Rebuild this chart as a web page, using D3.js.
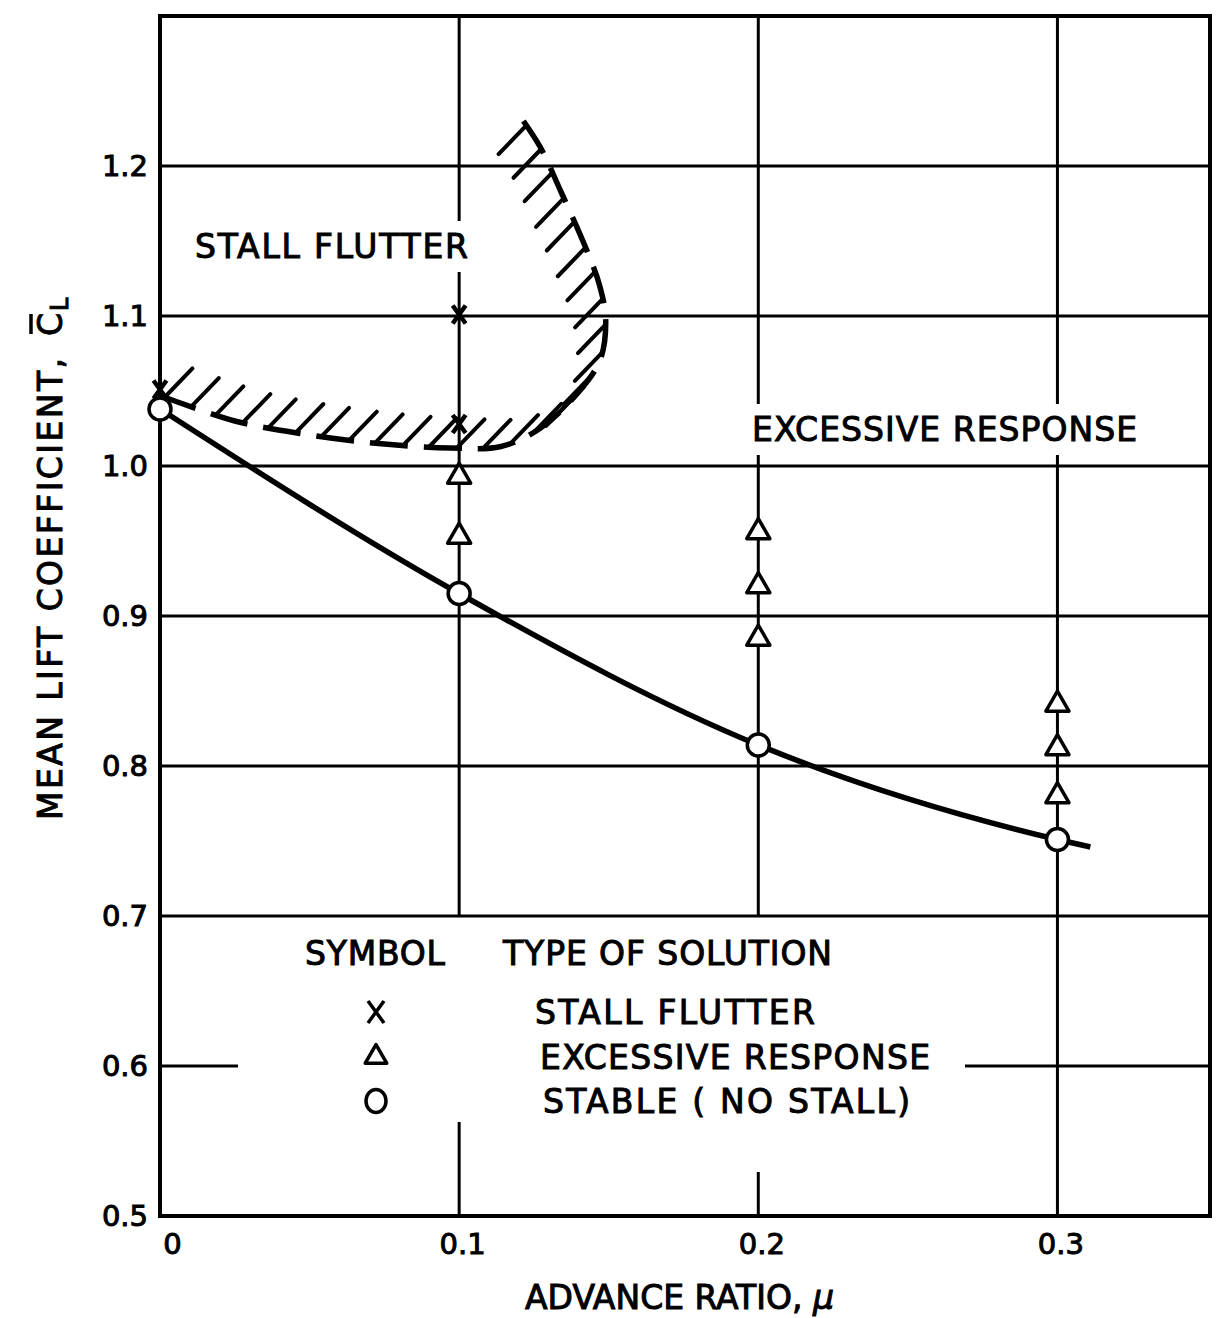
<!DOCTYPE html>
<html lang="en">
<head>
<meta charset="utf-8">
<title>Mean lift coefficient vs advance ratio</title>
<script src="https://d3js.org/d3.v7.min.js"></script>
<style>
  body { margin: 0; background: #fff; }
  svg text { font-family: "DejaVu Sans", sans-serif; fill: #000; }
  .lbl { font-size: 33px; stroke: #000; stroke-width: 1px; }
  .tick text { font-size: 29px; stroke: #000; stroke-width: 1px; font-family: "DejaVu Sans", sans-serif; }
</style>
</head>
<body>
<div id="chart"></div>
<script>
// axis ticks
var xTicks = [0, 0.1, 0.2, 0.3];
var yTicks = [0.5, 0.6, 0.7, 0.8, 0.9, 1.0, 1.1, 1.2];

// solid curve (stable / no stall boundary)
var curveMu = [0, 0.1, 0.2, 0.3, 0.311];
var curveCL = [1.038, 0.915, 0.814, 0.751, 0.746];

// O  stable (no stall)
var stableMu = [0, 0.1, 0.2, 0.3];
var stableCL = [1.038, 0.915, 0.814, 0.751];

// triangle  excessive response
var excessMu = [0.1, 0.1, 0.2, 0.2, 0.2, 0.3, 0.3, 0.3];
var excessCL = [0.993, 0.953, 0.956, 0.920, 0.885, 0.841, 0.812, 0.780];

// X  stall flutter
var flutterMu = [0, 0.1, 0.1];
var flutterCL = [1.051, 1.101, 1.028];

// dashed, hatched stall flutter boundary
var boundMu = [0, 0.025, 0.049, 0.073, 0.097, 0.114, 0.127, 0.138, 0.147, 0.149, 0.147, 0.142, 0.134, 0.127, 0.119];
var boundCL = [1.047, 1.030, 1.021, 1.015, 1.012, 1.013, 1.025, 1.045, 1.070, 1.097, 1.120, 1.147, 1.183, 1.213, 1.237];

var legendSymbols = ["x", "tri", "o"];
var legendLabels = ["STALL  FLUTTER", "EXCESSIVE  RESPONSE", "STABLE  ( NO STALL)"];

var W = 1225, H = 1318;
var svg = d3.select("#chart").append("svg")
  .attr("width", W).attr("height", H);

var x = d3.scaleLinear().domain([0, 0.351]).range([160, 1210]);
var y = d3.scaleLinear().domain([0.5, 1.3]).range([1216, 16]);

var gridW = 3, ink = "#000";

// horizontal grid lines (0.6 is broken by the legend)
var gGrid = svg.append("g").attr("stroke", ink).attr("stroke-width", gridW);
yTicks.filter(function(v){ return v > 0.5; }).forEach(function(v) {
  var segs = (v === 0.6) ? [[x(0), 238], [965, x(0.351)]] : [[x(0), x(0.351)]];
  segs.forEach(function(s) {
    gGrid.append("line").attr("x1", s[0]).attr("x2", s[1])
      .attr("y1", y(v)).attr("y2", y(v));
  });
});
// vertical grid lines (0.1 and 0.2 broken by the legend)
xTicks.filter(function(v){ return v > 0; }).forEach(function(v) {
  var segs;
  if (v === 0.1) segs = [[y(1.3), y(0.7)], [1122, y(0.5)]];
  else if (v === 0.2) segs = [[y(1.3), y(0.7)], [1172, y(0.5)]];
  else segs = [[y(1.3), y(0.5)]];
  segs.forEach(function(s) {
    gGrid.append("line").attr("x1", x(v)).attr("x2", x(v))
      .attr("y1", s[0]).attr("y2", s[1]);
  });
});

// frame
svg.append("rect")
  .attr("x", x(0)).attr("y", y(1.3))
  .attr("width", x(0.351) - x(0)).attr("height", y(0.5) - y(1.3))
  .attr("fill", "none").attr("stroke", ink).attr("stroke-width", 4);

// axes (labels only)
var xAxis = svg.append("g").attr("transform", "translate(0," + y(0.5) + ")")
  .call(d3.axisBottom(x).tickValues(xTicks).tickSize(0).tickPadding(17)
    .tickFormat(function(d){ return d === 0 ? "0" : d3.format(".1f")(d); }));
xAxis.select(".domain").remove();
xAxis.selectAll(".tick text").attr("dx", function(d){ return d === 0 ? 12 : 3; });

var yAxis = svg.append("g").attr("transform", "translate(" + x(0) + ",0)")
  .call(d3.axisLeft(y).tickValues(yTicks).tickSize(0).tickPadding(12)
    .tickFormat(d3.format(".1f")));
yAxis.select(".domain").remove();

// text with white knock-out behind it
function label(txt, x0, base, len, knock) {
  var g = svg.append("g");
  var t = g.append("text").attr("class", "lbl")
    .attr("x", x0).attr("y", base).text(txt);
  if (len) t.attr("textLength", len).attr("lengthAdjust", "spacing");
  if (knock) {
    var b = t.node().getBBox();
    g.insert("rect", "text").attr("x", b.x - 4).attr("y", b.y - 6)
      .attr("width", b.width + 8).attr("height", b.height + 12)
      .attr("fill", "#fff");
  }
  return t;
}

label("STALL  FLUTTER", 195, 258, 273, true);
label("EXCESSIVE  RESPONSE", 752, 441, 385, true);

// stall flutter boundary
var bound = boundMu.map(function(m, i){ return [x(m), y(boundCL[i])]; });
var boundPath = svg.append("path")
  .attr("d", d3.line().curve(d3.curveCatmullRom)(bound))
  .attr("fill", "none").attr("stroke", ink).attr("stroke-width", 5.5)
  .attr("stroke-dasharray", "38 16");

// hatching at both ends of each dash, pointing into the flutter region
var node = boundPath.node(), total = node.getTotalLength();
var ang = 46 * Math.PI / 180, d0 = [Math.cos(ang), -Math.sin(ang)], hl = 40;
var hatch = svg.append("g").attr("stroke", ink).attr("stroke-width", 4)
  .attr("stroke-linecap", "round");
for (var s = 0; s < total; s += 54) {
  [s + 5, s + 33].forEach(function(p) {
    if (p > total - 2) return;
    var a = node.getPointAtLength(Math.max(p - 1, 0)), b = node.getPointAtLength(p + 1);
    var tx = b.x - a.x, ty = b.y - a.y;
    var nx = ty, ny = -tx;
    var dir = (d0[0] * nx + d0[1] * ny) >= 0 ? d0 : [-d0[0], -d0[1]];
    var c = node.getPointAtLength(p);
    hatch.append("line").attr("x1", c.x).attr("y1", c.y)
      .attr("x2", c.x + dir[0] * hl).attr("y2", c.y + dir[1] * hl);
  });
}

// solid curve
var curve = curveMu.map(function(m, i){ return [x(m), y(curveCL[i])]; });
svg.append("path")
  .attr("d", d3.line().curve(d3.curveMonotoneX)(curve))
  .attr("fill", "none").attr("stroke", ink).attr("stroke-width", 5.5);

// markers
var triPath = d3.symbol().type(d3.symbolTriangle).size(230)();
var crossPath = "M-6.5,-9L6.5,9M6.5,-9L-6.5,9";

svg.append("g").selectAll("path")
  .data(excessMu.map(function(m, i){ return [m, excessCL[i]]; }))
  .join("path")
  .attr("transform", function(d){ return "translate(" + x(d[0]) + "," + y(d[1]) + ")"; })
  .attr("d", triPath)
  .attr("fill", "#fff").attr("stroke", ink).attr("stroke-width", 3.5)
  .attr("stroke-linejoin", "round");

svg.append("g").selectAll("circle")
  .data(stableMu.map(function(m, i){ return [m, stableCL[i]]; }))
  .join("circle")
  .attr("cx", function(d){ return x(d[0]); })
  .attr("cy", function(d){ return y(d[1]); })
  .attr("r", 11)
  .attr("fill", "#fff").attr("stroke", ink).attr("stroke-width", 3.5);

svg.append("g").selectAll("path")
  .data(flutterMu.map(function(m, i){ return [m, flutterCL[i]]; }))
  .join("path")
  .attr("transform", function(d){ return "translate(" + x(d[0]) + "," + y(d[1]) + ")"; })
  .attr("d", crossPath)
  .attr("fill", "none").attr("stroke", ink).attr("stroke-width", 4.5);

// legend
label("SYMBOL", 305, 965, 140, false);
label("TYPE  OF  SOLUTION", 503, 965, 329, false);
var legY = [1012, 1057, 1101];
var legX = [535, 540, 543];
var legLen = [280, 390, 367];
legendSymbols.forEach(function(k, i) {
  var g = svg.append("g").attr("transform", "translate(376," + legY[i] + ")")
    .attr("fill", "none").attr("stroke", ink).attr("stroke-width", 3.5);
  if (k === "x") g.append("path").attr("d", "M-8,-11L8,11M8,-11L-8,11");
  else if (k === "tri") g.append("path").attr("d", d3.symbol().type(d3.symbolTriangle).size(200)())
    .attr("stroke-linejoin", "round");
  else g.append("ellipse").attr("rx", 10).attr("ry", 11.5);
  label(legendLabels[i], legX[i], legY[i] + 12, legLen[i], false);
});

// axis titles
var xt = svg.append("text").attr("class", "lbl").attr("x", 525).attr("y", 1309);
xt.append("tspan").text("ADVANCE  RATIO, ");
xt.append("tspan").attr("font-style", "italic").text("\u03bc");

var yt = svg.append("g").attr("transform", "translate(62,820) rotate(-90)");
yt.append("text").attr("class", "lbl").attr("x", 0).attr("y", 0)
  .attr("textLength", 462).attr("lengthAdjust", "spacing")
  .text("MEAN  LIFT  COEFFICIENT,");
yt.append("text").attr("class", "lbl").attr("x", 484).attr("y", 0).text("C");
yt.append("line").attr("x1", 486).attr("x2", 506).attr("y1", -31).attr("y2", -31)
  .attr("stroke", ink).attr("stroke-width", 3.5);
yt.append("text").attr("class", "lbl").style("font-size", "24px")
  .attr("x", 509).attr("y", 6).text("L");
</script>
</body>
</html>
